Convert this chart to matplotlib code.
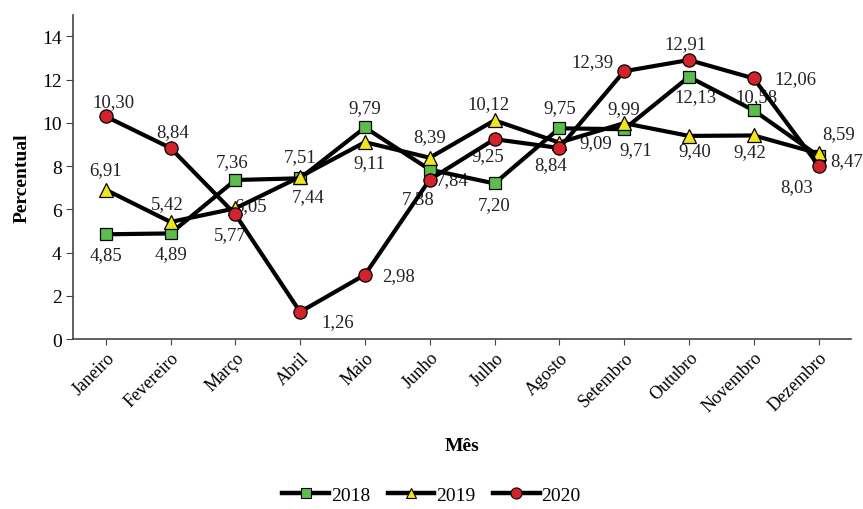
import matplotlib.pyplot as plt
from matplotlib.lines import Line2D

plt.rcParams['font.family'] = ['Liberation Serif', 'DejaVu Serif']

meses = ['Janeiro', 'Fevereiro', 'Março', 'Abril', 'Maio', 'Junho', 'Julho',
         'Agosto', 'Setembro', 'Outubro', 'Novembro', 'Dezembro']
v2018 = [4.85, 4.89, 7.36, 7.44, 9.79, 7.84, 7.20, 9.75, 9.71, 12.13, 10.58, 8.47]
v2019 = [6.91, 5.42, 6.05, 7.51, 9.11, 8.39, 10.12, 9.09, 9.99, 9.40, 9.42, 8.59]
v2020 = [10.30, 8.84, 5.77, 1.26, 2.98, 7.38, 9.25, 8.84, 12.39, 12.91, 12.06, 8.03]

# label offsets (pixels) so the numbers sit roughly where they do in the source
off2018 = [(0, -20), (0, -20), (-3, 18), (8, -18), (0, 20), (22, -10),
           (0, -21), (0, 21), (12, -20), (7, -20), (3, 14), (28, -5)]
off2019 = [(0, 20), (-3, 18), (15, 3), (0, 20), (4, -20), (0, 21),
           (-6, 17), (36, 0), (0, 15), (6, -15), (-4, -16), (20, 20)]
off2020 = [(8, 15), (2, 16), (-5, -20), (38, -10), (34, -1), (-12, -19),
           (-7, -16), (-9, -17), (-32, 10), (-3, 16), (42, 0), (-22, -21)]

series = [
    ('2018', v2018, off2018, 's', '#5bbd4b', 9, 7),
    ('2019', v2019, off2019, '^', '#f0e41c', 10.5, 6.5),
    ('2020', v2020, off2020, 'o', '#d2232a', 9.5, 8),
]

fig = plt.figure(figsize=(8.63, 5.10), dpi=100)
ax = fig.add_axes([0.085, 0.333, 0.901, 0.636])

x = list(range(len(meses)))
handles = []
for i, (nome, vals, offs, mk, cor, ms, ms_leg) in enumerate(series):
    ax.plot(x, vals, color='black', lw=3, marker=mk, markersize=ms,
            markerfacecolor=cor, markeredgecolor='black', markeredgewidth=0.9,
            zorder=3 + i, clip_on=False)
    for xi, v, (dx, dy) in zip(x, vals, offs):
        ax.annotate(f'{v:.2f}'.replace('.', ','), (xi, v), xytext=(dx, dy),
                    textcoords='offset pixels', ha='center', va='center',
                    fontsize=13.5, color='#222222', zorder=2)
    handles.append(Line2D([], [], color='black', lw=3.2, marker=mk, markersize=ms_leg,
                          markerfacecolor=cor, markeredgecolor='black',
                          markeredgewidth=0.8, label=nome))

ax.set_xlim(-0.5, 11.5)
ax.set_ylim(0, 15)
ax.set_yticks(range(0, 15, 2))
ax.set_xticks(x)
ax.set_xticklabels(meses, rotation=45, ha='right', rotation_mode='anchor',
                   fontsize=13)
ax.tick_params(axis='y', labelsize=14, direction='out', length=5, color='#444444')
ax.tick_params(axis='x', direction='out', length=4, color='#444444', pad=3)

for s in ['top', 'right']:
    ax.spines[s].set_visible(False)
for s in ['left', 'bottom']:
    ax.spines[s].set_color('#444444')
    ax.spines[s].set_linewidth(1.2)

ax.set_ylabel('Percentual', fontsize=14, fontweight='bold', labelpad=8)
ax.set_xlabel('Mês', fontsize=14, fontweight='bold', labelpad=16)

fig.legend(handles=handles, loc='lower center', ncol=3, frameon=False,
           bbox_to_anchor=(0.5, -0.025), fontsize=14, handlelength=2.4,
           handletextpad=0.1, columnspacing=0.9)

fig.savefig('out.png', dpi=100)
